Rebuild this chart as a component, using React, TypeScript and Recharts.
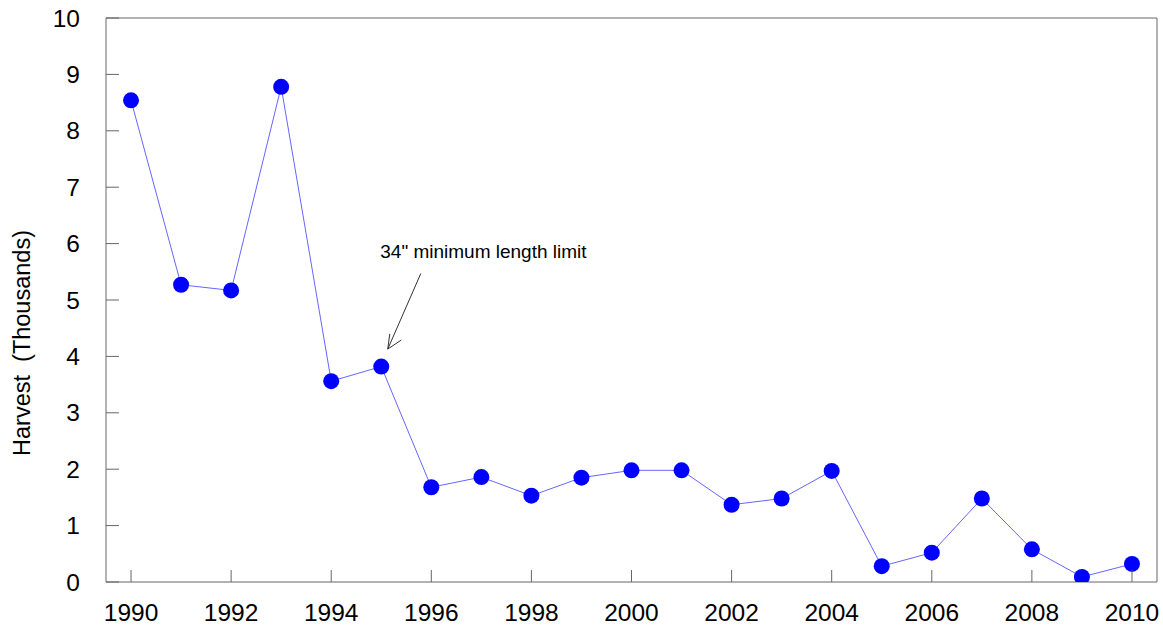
import React from 'react';
import { LineChart, Line, XAxis, YAxis, ReferenceLine, ReferenceDot } from 'recharts';

const years = [1990, 1991, 1992, 1993, 1994, 1995, 1996, 1997, 1998, 1999, 2000, 2001, 2002, 2003, 2004, 2005, 2006, 2007, 2008, 2009, 2010];
const harvest = [8.54, 5.27, 5.17, 8.78, 3.56, 3.82, 1.68, 1.86, 1.53, 1.85, 1.98, 1.98, 1.37, 1.48, 1.97, 0.28, 0.52, 1.48, 0.58, 0.09, 0.32];
const xTicks = [1990, 1992, 1994, 1996, 1998, 2000, 2002, 2004, 2006, 2008, 2010];
const yTicks = [0, 1, 2, 3, 4, 5, 6, 7, 8, 9, 10];
const annotationText = '34" minimum length limit';
const yLabel = 'Harvest  (Thousands)';

const data = years.map((y, i) => ({ year: y, v: harvest[i] }));

const FONT = "'Liberation Sans', Arial, Helvetica, sans-serif";
const AXIS = '#666666';

const XTick = (props: any) => {
  const { x, y, payload } = props;
  return (
    <g>
      <line x1={x} x2={x} y1={y} y2={y - 12} stroke={AXIS} strokeWidth={1} />
      <text x={x} y={y + 39} textAnchor="middle" fontFamily={FONT} fontSize={24.5} fill="#000">
        {payload.value}
      </text>
    </g>
  );
};

const YTick = (props: any) => {
  const { x, y, payload } = props;
  return (
    <g>
      <line x1={x} x2={x + 13} y1={y} y2={y} stroke={AXIS} strokeWidth={1} />
      <text x={x - 26} y={y + 8.5} textAnchor="end" fontFamily={FONT} fontSize={24.5} fill="#000">
        {payload.value}
      </text>
    </g>
  );
};

const YLabel = () => (
  <text
    x={22}
    y={343}
    transform="rotate(-90, 22, 343)"
    textAnchor="middle"
    dominantBaseline="central"
    fontFamily={FONT}
    fontSize={23.5}
    fill="#000"
    style={{ whiteSpace: 'pre' }}
  >
    {yLabel}
  </text>
);

const AnnText = (props: any) => (
  <text x={props.cx} y={props.cy} fontFamily={FONT} fontSize={19} fill="#000">
    {annotationText}
  </text>
);

const arrowTip = { x: 1995.13, y: 4.13 };
const arrowStart = { x: 1995.79, y: 5.47 };
const headA = { x: 1995.17, y: 4.4 };
const headB = { x: 1995.4, y: 4.29 };

export default function App() {
  return (
    <div style={{ position: 'absolute', left: 0, top: 0, background: '#fff' }}>
      <LineChart width={1163} height={626} data={data} margin={{ top: 18, right: 6, bottom: 0, left: 0 }}>
        <XAxis
          dataKey="year"
          type="number"
          domain={[1989.5, 2010.5]}
          ticks={xTicks}
          interval={0}
          height={44}
          tickSize={0}
          tickMargin={0}
          tickLine={false}
          axisLine={{ stroke: AXIS, strokeWidth: 1 }}
          tick={<XTick />}
          allowDataOverflow
        />
        <YAxis
          type="number"
          domain={[0, 10]}
          ticks={yTicks}
          interval={0}
          width={106}
          tickSize={0}
          tickMargin={0}
          tickLine={false}
          axisLine={{ stroke: AXIS, strokeWidth: 1 }}
          tick={<YTick />}
          label={<YLabel />}
          allowDataOverflow
        />
        <ReferenceLine y={10} stroke={AXIS} strokeWidth={1} ifOverflow="visible" />
        <ReferenceLine x={2010.5} stroke={AXIS} strokeWidth={1} ifOverflow="visible" />
        <ReferenceLine segment={[arrowStart, arrowTip]} stroke="#333" strokeWidth={1} ifOverflow="visible" />
        <ReferenceLine segment={[headA, arrowTip]} stroke="#333" strokeWidth={1} ifOverflow="visible" />
        <ReferenceLine segment={[headB, arrowTip]} stroke="#333" strokeWidth={1} ifOverflow="visible" />
        <ReferenceDot x={1994.98} y={5.745} r={0} shape={<AnnText />} ifOverflow="visible" />
        <Line
          type="linear"
          dataKey="v"
          stroke="#6666ff"
          strokeWidth={1}
          dot={{ r: 8, fill: '#0000ff', stroke: '#0000ff', strokeWidth: 0 }}
          activeDot={false}
          isAnimationActive={false}
        />
      </LineChart>
    </div>
  );
}
